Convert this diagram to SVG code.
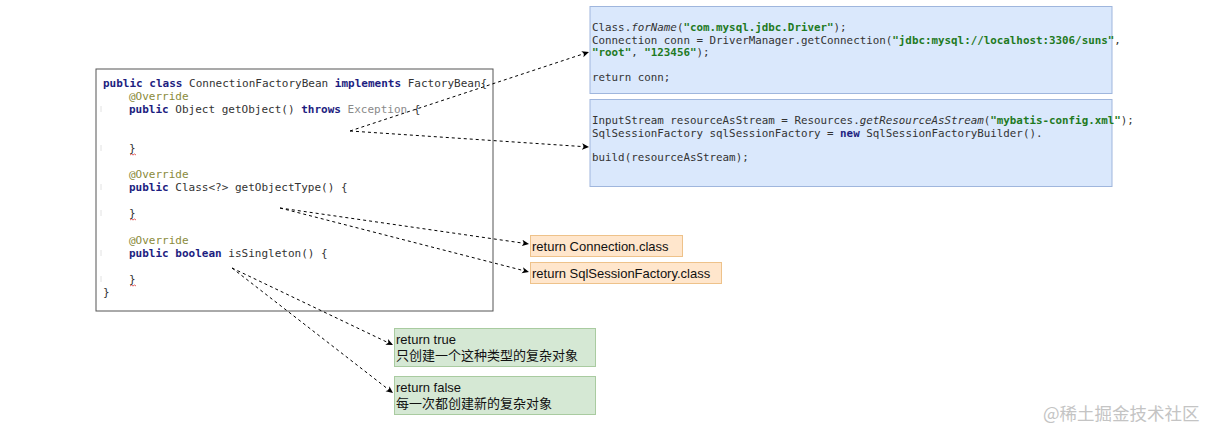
<svg xmlns="http://www.w3.org/2000/svg" width="1209" height="433" viewBox="0 0 1209 433">
<style>
.code{font-family:"DejaVu Sans Mono","Liberation Mono",monospace;font-size:11px;fill:#333;}
.code2{font-family:"DejaVu Sans Mono","Liberation Mono",monospace;font-size:10.85px;fill:#333;}
.kw{fill:#1d1d80;font-weight:bold;}
.ann{fill:#8a8a3a;}
.str{fill:#1f7a1f;font-weight:bold;}
.gray{fill:#8a8a8a;}
.lbl{font-family:"Liberation Sans","Noto Sans CJK SC",sans-serif;font-size:13px;fill:#111;}
.conn{fill:none;stroke:#000;stroke-width:1;stroke-dasharray:3 3;}
.tick{stroke:#e2e2e2;stroke-width:1;}
.sq{stroke:#e06060;stroke-width:1;fill:none;}
</style>
<defs>
<marker id="arr" markerWidth="8" markerHeight="8" refX="7" refY="4" orient="auto" markerUnits="userSpaceOnUse">
<path d="M0,0.8 L7,4 L0,7.2 L1.8,4 z" fill="#000"/>
</marker>
</defs>
<rect width="1209" height="433" fill="#fff"/>

<g id="code-box">
<rect x="96" y="69" width="397" height="242" fill="#fff" stroke="#555" stroke-width="1"/>
<line class="tick" x1="101" y1="106" x2="101" y2="112"/>
<line class="tick" x1="101" y1="145" x2="101" y2="151"/>
<line class="tick" x1="101" y1="184" x2="101" y2="190"/>
<line class="tick" x1="101" y1="210" x2="101" y2="216"/>
<line class="tick" x1="101" y1="250" x2="101" y2="256"/>
<line class="tick" x1="101" y1="276" x2="101" y2="282"/>
<path class="sq" d="M130,155 l1.5,-1 l1.5,1 l1.5,-1 l1.5,1"/>
<path class="sq" d="M130,220 l1.5,-1 l1.5,1 l1.5,-1 l1.5,1"/>
<path class="sq" d="M130,286 l1.5,-1 l1.5,1 l1.5,-1 l1.5,1"/>
<text class="code" x="103" y="87"><tspan class="kw">public class</tspan> ConnectionFactoryBean <tspan class="kw">implements</tspan> FactoryBean{</text>
<text class="code" x="129" y="100"><tspan class="ann">@Override</tspan></text>
<text class="code" x="129" y="113"><tspan class="kw">public</tspan> Object getObject() <tspan class="kw">throws</tspan> <tspan class="gray">Exception</tspan> {</text>
<text class="code" x="129" y="152">}</text>
<text class="code" x="129" y="178"><tspan class="ann">@Override</tspan></text>
<text class="code" x="129" y="191"><tspan class="kw">public</tspan> Class&lt;?&gt; getObjectType() {</text>
<text class="code" x="129" y="217">}</text>
<text class="code" x="129" y="244"><tspan class="ann">@Override</tspan></text>
<text class="code" x="129" y="257"><tspan class="kw">public boolean</tspan> isSingleton() {</text>
<text class="code" x="129" y="283">}</text>
<text class="code" x="103" y="296">}</text>
</g>

<g id="jdbc-box">
<rect x="590" y="6.5" width="522" height="87" fill="#dae8fc" stroke="#9fb6dd" stroke-width="1"/>
<text class="code2" x="592" y="31">Class.<tspan font-style="italic">forName</tspan>(<tspan class="str">"com.mysql.jdbc.Driver"</tspan>);</text>
<text class="code2" x="592" y="44">Connection conn = DriverManager.getConnection(<tspan class="str">"jdbc:mysql://localhost:3306/suns"</tspan>,</text>
<text class="code2" x="592" y="56"><tspan class="str">"root"</tspan>, <tspan class="str">"123456"</tspan>);</text>
<text class="code2" x="592" y="81">return conn;</text>
</g>

<g id="mybatis-box">
<rect x="590" y="99.5" width="522" height="87" fill="#dae8fc" stroke="#9fb6dd" stroke-width="1"/>
<text class="code2" x="592" y="124">InputStream resourceAsStream = Resources.<tspan font-style="italic">getResourceAsStream</tspan>(<tspan class="str">"mybatis-config.xml"</tspan>);</text>
<text class="code2" x="592" y="137">SqlSessionFactory sqlSessionFactory = <tspan class="kw">new</tspan> SqlSessionFactoryBuilder().</text>
<text class="code2" x="592" y="161">build(resourceAsStream);</text>
</g>

<g id="ret-connection">
<rect x="530.5" y="235.5" width="152" height="21" fill="#ffe6cc" stroke="#eec28a" stroke-width="1"/>
<text class="lbl" x="532" y="251">return Connection.class</text>
</g>

<g id="ret-sqlsessionfactory">
<rect x="530.5" y="262.5" width="191" height="21" fill="#ffe6cc" stroke="#eec28a" stroke-width="1"/>
<text class="lbl" x="532" y="278">return SqlSessionFactory.class</text>
</g>

<g id="ret-true">
<rect x="394.5" y="328.5" width="201" height="38" fill="#d5e8d4" stroke="#a9cba0" stroke-width="1"/>
<text class="lbl" x="396" y="344">return true</text>
<text class="lbl" x="396" y="360">只创建一个这种类型的复杂对象</text>
</g>

<g id="ret-false">
<rect x="394.5" y="376.5" width="201" height="38" fill="#d5e8d4" stroke="#a9cba0" stroke-width="1"/>
<text class="lbl" x="396" y="392">return false</text>
<text class="lbl" x="396" y="408">每一次都创建新的复杂对象</text>
</g>

<g id="connectors">
<path class="conn" d="M350,131 L589,52" marker-end="url(#arr)"/>
<path class="conn" d="M350,131 L589,147" marker-end="url(#arr)"/>
<path class="conn" d="M280,208 L529,244" marker-end="url(#arr)"/>
<path class="conn" d="M280,208 L529,272" marker-end="url(#arr)"/>
<path class="conn" d="M232,268 L393,345" marker-end="url(#arr)"/>
<path class="conn" d="M232,268 L393,393" marker-end="url(#arr)"/>
</g>

<text x="1043" y="420" font-family="'Noto Sans CJK SC',sans-serif" font-size="17.5" fill="#c4c4c4">@稀土掘金技术社区</text>
</svg>
